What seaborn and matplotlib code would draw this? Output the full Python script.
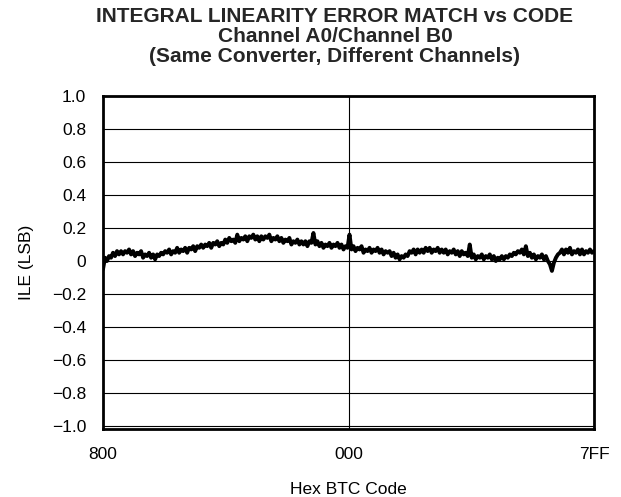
import numpy as np
import pandas as pd
import matplotlib
matplotlib.use("Agg")
import matplotlib.pyplot as plt
import seaborn as sns

# ILE match values in hundredths of an LSB, read left to right across the code range
ile_hundredths = [
    -5, 2, 0, 3, 2, 5, 3, 6, 4, 6,
    4, 6, 5, 7, 4, 6, 3, 5, 4, 6,
    2, 4, 3, 5, 2, 4, 1, 4, 3, 5,
    4, 6, 5, 7, 4, 6, 5, 8, 5, 7,
    6, 8, 5, 8, 7, 9, 6, 9, 8, 10,
    8, 10, 9, 11, 8, 11, 10, 12, 9, 11,
    10, 13, 11, 14, 12, 13, 11, 16, 12, 14,
    13, 15, 12, 15, 14, 16, 13, 15, 12, 15,
    13, 15, 14, 16, 12, 14, 13, 15, 12, 14,
    11, 13, 12, 14, 10, 12, 11, 13, 10, 12,
    10, 12, 9, 12, 11, 17, 10, 12, 9, 11,
    8, 10, 9, 11, 8, 10, 9, 11, 8, 10,
    7, 9, 8, 16, 7, 9, 6, 8, 7, 9,
    5, 7, 6, 8, 5, 7, 6, 8, 5, 7,
    4, 6, 5, 6, 3, 5, 2, 4, 1, 3,
    2, 4, 3, 6, 5, 7, 4, 7, 5, 7,
    5, 8, 6, 8, 5, 7, 6, 8, 5, 7,
    5, 7, 4, 6, 5, 7, 4, 6, 3, 6,
    4, 5, 3, 10, 2, 4, 1, 3, 2, 4,
    1, 3, 2, 4, 1, 3, 0, 2, 1, 3,
    1, 3, 2, 4, 3, 5, 4, 6, 5, 7,
    4, 9, 3, 5, 2, 4, 1, 3, 2, 4,
    1, 3, 0, -2, -6, -1, 2, 4, 5, 7,
    4, 7, 5, 8, 4, 6, 5, 7, 4, 7,
    4, 6, 5, 7, 5, 6,
]

y_ticks = [-1.0, -0.8, -0.6, -0.4, -0.2, 0.0, 0.2, 0.4, 0.6, 0.8, 1.0]
y_tick_labels = ["\u22121.0", "\u22120.8", "\u22120.6", "\u22120.4", "\u22120.2", "0",
                 "0.2", "0.4", "0.6", "0.8", "1.0"]
x_ticks = [0, 2048, 4095]
x_tick_labels = ["800", "000", "7FF"]

title = ("INTEGRAL LINEARITY ERROR MATCH vs CODE\n"
         "Channel A0/Channel B0\n"
         "(Same Converter, Different Channels)")

ile = np.array(ile_hundredths) / 100.0
codes = np.linspace(0, 4095, len(ile))
df = pd.DataFrame({"code": codes, "ile": ile})

sns.set_theme(style="white")
plt.rcParams["font.family"] = ["Liberation Sans", "DejaVu Sans"]

fig = plt.figure(figsize=(6.21, 4.97), dpi=100)
ax = fig.add_axes([103 / 621, 1 - 429 / 497, (594 - 103) / 621, (429 - 96) / 497])

for yv in y_ticks:
    ax.axhline(yv, color="black", lw=0.8, zorder=1)
ax.axvline(2048, color="black", lw=0.8, zorder=1)

sns.lineplot(data=df, x="code", y="ile", ax=ax, color="black", lw=2.8, zorder=3)

fs = 12.5
ax.set_xlim(0, 4095)
ax.set_ylim(-1.018, 1.0)
ax.set_yticks(y_ticks)
ax.set_yticklabels(y_tick_labels, fontsize=fs)
ax.set_xticks(x_ticks)
ax.set_xticklabels(x_tick_labels, fontsize=fs)
ax.tick_params(length=0, pad=12, colors="black")
ax.tick_params(axis="x", pad=13)
ax.set_xlabel("Hex BTC Code", fontsize=fs, labelpad=14, color="black")
ax.set_ylabel("ILE (LSB)", fontsize=fs, labelpad=13, color="black")
for s in ax.spines.values():
    s.set_visible(True)
    s.set_color("black")
    s.set_linewidth(2.0)

fig.text(335 / 621, 1 - 7 / 497, title, ha="center", va="top", fontsize=15,
         fontweight="bold", linespacing=1.08)

fig.savefig("out.png", dpi=100)
